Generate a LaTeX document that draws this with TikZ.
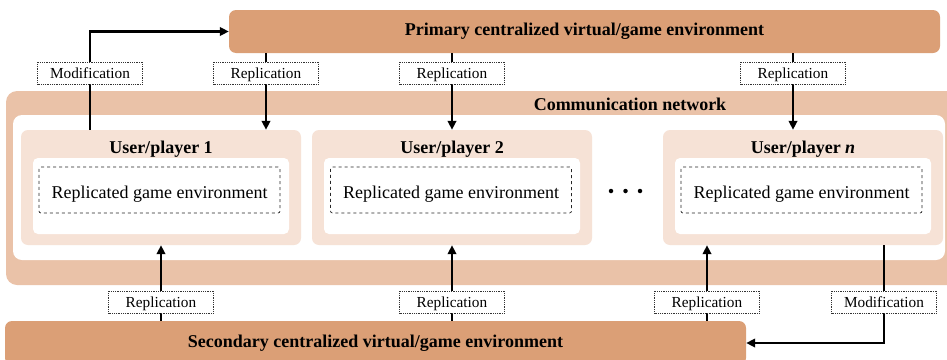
\documentclass[tikz,border=0pt]{standalone}
\usepackage{fontspec}
\setmainfont{Liberation Serif}
\usetikzlibrary{arrows.meta}
\definecolor{prim}{RGB}{219,159,118}
\definecolor{netw}{RGB}{234,194,168}
\definecolor{userc}{RGB}{246,226,214}
\begin{document}
\begin{tikzpicture}[x=1pt,y=-1pt,
  box/.style={rectangle, inner sep=0pt, anchor=center},
  bigbox/.style={box, fill=prim, rounded corners=7pt, minimum height=43pt, font=\bfseries\fontsize{18}{20}\selectfont},
  userbox/.style={box, fill=userc, rounded corners=7pt, minimum width=280pt, minimum height=115pt},
  whitebox/.style={box, fill=white, rounded corners=5pt, minimum width=256pt, minimum height=76pt},
  envbox/.style={box, draw=black!85, dashed, line width=0.7pt, rounded corners=2pt, minimum width=241pt, minimum height=46pt, text height=16pt, text depth=0pt, font=\fontsize{18}{20}\selectfont},
  titletext/.style={font=\bfseries\fontsize{18}{20}\selectfont, inner sep=0pt, anchor=base},
  lab/.style={box, draw=black!80, densely dotted, line width=0.8pt, fill=white, minimum width=105pt, minimum height=22pt, text height=10.6pt, text depth=0pt, font=\fontsize{15.3}{17}\selectfont},
  arr/.style={line width=2.5pt, -{Triangle[length=9pt,width=8.5pt]}}
]
\useasboundingbox (0,0) rectangle (947,359);
\clip (0,0) rectangle (947,359);

% communication network
\node[box, fill=netw, rounded corners=11pt, minimum width=969pt, minimum height=194pt] (net) at (490.5,188) {};
\node[box, fill=white, rounded corners=9pt, minimum width=932pt, minimum height=145pt] (netin) at (479,187.5) {};
\node[titletext] (nettitle) at (630,110) {Communication network};

% users
\node[userbox] (u1) at (161,187.5) {};
\node[userbox] (u2) at (452,187.5) {};
\node[userbox] (un) at (803,187.5) {};
\node[whitebox] (w1) at (161,196) {};
\node[whitebox] (w2) at (452,196) {};
\node[whitebox] (wn) at (803,196) {};
\node[titletext] (t1) at (161,153.5) {User/player 1};
\node[titletext] (t2) at (452,153.5) {User/player 2};
\node[titletext] (tn) at (803,153.5) {User/player \textit{n}};
\node[envbox] (e1) at (159.5,190) {Replicated game environment};
\node[envbox] (e2) at (451,190) {Replicated game environment};
\node[envbox] (en) at (801.5,190) {Replicated game environment};

% dots
\node[circle, fill=black, inner sep=0pt, minimum size=4.5pt] (d1) at (611,191) {};
\node[circle, fill=black, inner sep=0pt, minimum size=4.5pt] (d2) at (625.5,191) {};
\node[circle, fill=black, inner sep=0pt, minimum size=4.5pt] (d3) at (640,191) {};

% centralized environments
\node[bigbox, minimum width=711pt] (primary) at (584.5,31.5) {Primary centralized virtual/game environment};
\node[bigbox, minimum width=741pt, minimum height=44pt] (secondary) at (375.5,343) {Secondary centralized virtual/game environment};

% connector positions
\coordinate (cm1) at (90,73);
\coordinate (cr1) at (266,73);
\coordinate (cr2) at (452,73);
\coordinate (cr3) at (793,73);
\coordinate (cb1) at (161,302);
\coordinate (cb2) at (452,302);
\coordinate (cb3) at (707,302);
\coordinate (cm2) at (884,302);

% top connectors
\draw[arr] (u1.north -| cm1) |- (primary.west);
\draw[arr] (primary.south -| cr1) -- (u1.north -| cr1);
\draw[arr] (primary.south -| cr2) -- (u2.north -| cr2);
\draw[arr] (primary.south -| cr3) -- (un.north -| cr3);

% bottom connectors
\draw[arr] (secondary.north -| cb1) -- (u1.south -| cb1);
\draw[arr] (secondary.north -| cb2) -- (u2.south -| cb2);
\draw[arr] (secondary.north -| cb3) -- (un.south -| cb3);
\draw[arr] (un.south -| cm2) |- (secondary.east);

% labels
\node[lab] (lm1) at (cm1) {Modification};
\node[lab] (lr1) at (cr1) {Replication};
\node[lab] (lr2) at (cr2) {Replication};
\node[lab] (lr3) at (cr3) {Replication};
\node[lab] (lb1) at (cb1) {Replication};
\node[lab] (lb2) at (cb2) {Replication};
\node[lab] (lb3) at (cb3) {Replication};
\node[lab] (lm2) at (cm2) {Modification};
\end{tikzpicture}
\end{document}
